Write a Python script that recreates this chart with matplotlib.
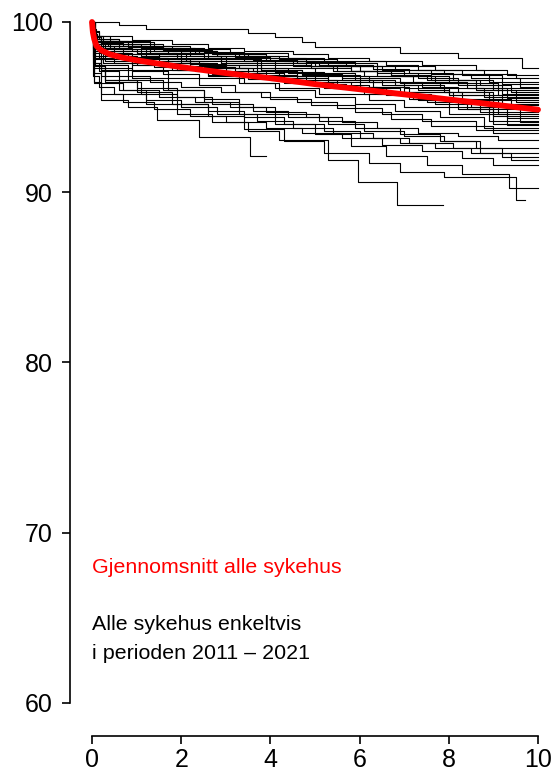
"""Kaplan-Meier style curves per hospital with the overall average in red."""
import matplotlib
matplotlib.use("Agg")
import matplotlib.pyplot as plt

plt.rcParams["font.family"] = ["Liberation Sans", "DejaVu Sans"]

# each hospital: (years, survival %) step points
h01 = ([0, 0.6, 1.2, 3.5, 4.1, 4.7, 5.0, 6.9, 8.2, 9.65, 10.0],
       [100, 99.8, 99.6, 99.35, 99.1, 98.85, 98.55, 98.2, 97.9, 97.3, 97.3])
h02 = ([0, 0.03, 0.15, 0.9, 1.8, 2.6, 3.4, 4.5, 5.3, 6.2, 7.4, 8.6, 9.3, 10],
       [100, 99.5, 99.2, 98.95, 98.7, 98.45, 98.3, 98.1, 97.9, 97.7, 97.45, 97.2, 96.9, 96.9])
h03 = ([0, 0.05, 0.2, 0.7, 1.5, 2.4, 3.3, 4.2, 5.5, 6.4, 7.7, 8.8, 9.5, 10],
       [100, 99.0, 98.75, 98.6, 98.4, 98.2, 98.0, 97.85, 97.6, 97.4, 97.2, 96.95, 96.7, 96.7])
h04 = ([0, 0.04, 0.12, 0.5, 1.1, 2.0, 2.8, 3.9, 4.8, 5.9, 6.8, 7.9, 8.9, 10],
       [100, 99.3, 98.9, 98.7, 98.5, 98.3, 98.1, 97.9, 97.65, 97.4, 97.2, 96.95, 96.5, 96.5])
h05 = ([0, 0.02, 0.1, 0.4, 1.3, 2.2, 3.1, 4.4, 5.2, 6.6, 7.3, 8.3, 9.2, 10],
       [100, 99.6, 99.2, 98.9, 98.6, 98.4, 98.15, 97.9, 97.7, 97.45, 97.2, 96.9, 96.35, 96.35])
h06 = ([0, 0.05, 0.3, 0.9, 1.7, 2.5, 3.6, 4.6, 5.7, 6.5, 7.6, 8.5, 9.6, 10],
       [100, 98.8, 98.5, 98.3, 98.1, 97.9, 97.75, 97.6, 97.4, 97.2, 96.95, 96.7, 96.2, 96.2])
h07 = ([0, 0.03, 0.2, 0.8, 1.6, 2.7, 3.5, 4.3, 5.1, 6.3, 7.1, 8.1, 9.0, 10],
       [100, 99.1, 98.8, 98.55, 98.35, 98.1, 97.9, 97.7, 97.5, 97.25, 97.0, 96.6, 96.0, 96.0])
h08 = ([0, 0.06, 0.25, 1.0, 1.9, 2.9, 3.7, 4.9, 5.8, 6.7, 7.5, 8.7, 9.4, 10],
       [100, 98.6, 98.3, 98.1, 97.85, 97.7, 97.5, 97.3, 97.1, 96.85, 96.6, 96.3, 95.87, 95.87])
h09 = ([0, 0.04, 0.15, 0.6, 1.4, 2.3, 3.2, 4.0, 5.0, 6.0, 7.0, 8.0, 9.1, 10],
       [100, 99.4, 99.0, 98.8, 98.5, 98.2, 97.95, 97.7, 97.4, 97.1, 96.8, 96.4, 95.71, 95.71])
h10 = ([0, 0.02, 0.1, 0.5, 1.2, 2.1, 3.0, 3.8, 4.7, 5.6, 6.9, 7.8, 8.8, 10],
       [100, 99.0, 98.4, 98.1, 97.9, 97.7, 97.45, 97.2, 96.95, 96.7, 96.4, 96.1, 95.6, 95.6])
h11 = ([0, 0.05, 0.35, 1.1, 2.0, 2.6, 3.4, 4.5, 5.4, 6.1, 7.2, 8.4, 9.3, 10],
       [100, 98.9, 98.6, 98.4, 98.15, 97.9, 97.7, 97.4, 97.1, 96.85, 96.5, 96.1, 95.52, 95.52])
h12 = ([0, 0.03, 0.2, 0.7, 1.5, 2.4, 3.3, 4.1, 5.2, 6.2, 7.4, 8.2, 9.0, 10],
       [100, 98.5, 98.2, 97.95, 97.7, 97.5, 97.3, 97.05, 96.8, 96.5, 96.2, 95.9, 95.4, 95.4])
h13 = ([0, 0.06, 0.2, 0.9, 1.8, 2.8, 3.9, 4.8, 5.5, 6.4, 7.7, 8.6, 9.5, 10],
       [100, 99.2, 98.9, 98.6, 98.3, 98.0, 97.7, 97.4, 97.1, 96.8, 96.4, 96.0, 95.32, 95.32])
h14 = ([0, 0.04, 0.3, 1.0, 2.2, 3.0, 3.6, 4.6, 5.3, 6.5, 7.3, 8.0, 9.2, 10],
       [100, 98.3, 98.0, 97.8, 97.55, 97.3, 97.1, 96.85, 96.6, 96.3, 96.0, 95.7, 95.2, 95.2])
h15 = ([0, 0.02, 0.12, 0.6, 1.3, 2.0, 2.9, 3.7, 4.4, 5.9, 6.8, 7.9, 8.9, 10],
       [100, 99.3, 98.7, 98.4, 98.1, 97.8, 97.5, 97.3, 97.0, 96.6, 96.3, 95.9, 95.13, 95.13])
h16 = ([0, 0.05, 0.25, 0.8, 1.7, 2.5, 3.2, 4.2, 5.0, 6.0, 7.0, 8.3, 9.4, 10],
       [100, 98.7, 98.2, 97.9, 97.6, 97.35, 97.1, 96.8, 96.5, 96.2, 95.9, 95.5, 94.93, 94.93])
h17 = ([0, 0.03, 0.15, 0.5, 1.4, 2.3, 3.1, 4.0, 4.9, 5.7, 6.6, 7.6, 8.7, 10],
       [100, 98.4, 97.9, 97.6, 97.35, 97.1, 96.85, 96.6, 96.35, 96.1, 95.8, 95.4, 94.73, 94.73])
h18 = ([0, 0.04, 0.2, 1.2, 2.1, 2.9, 3.8, 4.7, 5.6, 6.3, 7.1, 8.1, 9.1, 10],
       [100, 99.0, 98.6, 98.2, 97.9, 97.6, 97.2, 96.9, 96.6, 96.2, 95.9, 95.4, 94.6, 94.6])
h19 = ([0, 0.06, 0.3, 0.9, 1.6, 2.6, 3.5, 4.3, 5.2, 6.1, 7.2, 8.5, 9.3, 10],
       [100, 98.0, 97.7, 97.45, 97.2, 96.9, 96.65, 96.4, 96.1, 95.8, 95.5, 95.0, 94.34, 94.34])
h20 = ([0, 0.02, 0.1, 0.7, 1.5, 2.2, 3.0, 3.9, 4.8, 5.8, 6.9, 7.7, 8.9, 10],
       [100, 99.1, 98.5, 98.1, 97.7, 97.4, 97.1, 96.8, 96.5, 96.1, 95.7, 95.2, 94.2, 94.2])
h21 = ([0, 0.05, 0.2, 1.0, 1.9, 2.7, 3.6, 4.5, 5.4, 6.6, 7.5, 8.4, 9.6, 10],
       [100, 98.2, 97.8, 97.5, 97.2, 96.95, 96.7, 96.4, 96.1, 95.7, 95.3, 94.9, 94.15, 94.15])
h22 = ([0, 0.03, 0.4, 1.1, 2.0, 2.8, 3.7, 4.6, 5.5, 6.4, 7.3, 8.2, 9.0, 10],
       [100, 98.8, 98.4, 98.0, 97.6, 97.3, 96.9, 96.6, 96.2, 95.8, 95.4, 94.9, 94.0, 94.0])
h23 = ([0, 0.04, 0.2, 0.8, 1.6, 2.4, 3.4, 4.1, 5.1, 6.2, 7.0, 8.0, 9.3, 10],
       [100, 97.9, 97.5, 97.2, 96.95, 96.7, 96.4, 96.1, 95.8, 95.4, 95.0, 94.6, 93.95, 93.95])
h24 = ([0, 0.05, 0.3, 0.9, 1.8, 2.6, 3.3, 4.2, 5.0, 5.9, 6.8, 7.8, 8.8, 10],
       [100, 98.5, 98.0, 97.6, 97.2, 96.8, 96.4, 96.0, 95.6, 95.2, 94.8, 94.4, 93.8, 93.8])
h25 = ([0, 0.03, 0.15, 0.6, 1.3, 2.0, 2.9, 3.8, 4.6, 5.5, 6.5, 7.4, 8.6, 10],
       [100, 97.6, 97.1, 96.8, 96.5, 96.2, 95.9, 95.6, 95.3, 94.95, 94.6, 94.2, 93.66, 93.66])
h26 = ([0, 0.04, 0.25, 0.9, 1.7, 2.4, 3.2, 4.0, 4.9, 5.9, 6.7, 7.6, 9.0, 10],
       [100, 98.3, 97.6, 97.1, 96.7, 96.3, 95.9, 95.5, 95.1, 94.7, 94.3, 93.9, 93.46, 93.46])
h27 = ([0, 0.05, 0.2, 0.7, 1.5, 2.3, 3.1, 3.9, 4.8, 5.6, 6.4, 7.3, 8.2, 9.1, 10],
       [100, 97.0, 96.4, 96.0, 95.6, 95.3, 95.0, 94.7, 94.4, 94.1, 93.8, 93.5, 93.3, 93.07, 93.07])
h28 = ([0, 0.04, 0.3, 1.0, 1.9, 2.7, 3.6, 4.4, 5.3, 6.1, 7.0, 7.9, 8.6, 10],
       [100, 97.3, 96.6, 96.1, 95.6, 95.2, 94.8, 94.4, 94.0, 93.6, 93.3, 93.0, 92.58, 92.58])
h29 = ([0, 0.05, 0.2, 0.8, 1.6, 2.5, 3.3, 4.1, 5.1, 5.9, 6.9, 7.8, 8.7, 10],
       [100, 97.8, 97.2, 96.6, 96.0, 95.5, 95.0, 94.6, 94.2, 93.8, 93.4, 93.0, 92.29, 92.29])
h30 = ([0, 0.03, 0.15, 0.5, 1.2, 2.0, 2.8, 3.7, 4.5, 5.4, 6.3, 7.1, 8.1, 9.2, 10],
       [100, 96.8, 96.2, 95.8, 95.4, 95.0, 94.6, 94.2, 93.8, 93.5, 93.2, 92.9, 92.6, 92.09, 92.09])
h31 = ([0, 0.06, 0.3, 1.1, 1.9, 2.6, 3.4, 4.3, 5.2, 6.0, 6.9, 7.7, 8.5, 9.4, 10],
       [100, 97.4, 96.5, 95.8, 95.2, 94.8, 94.4, 94.0, 93.6, 93.2, 92.9, 92.6, 92.3, 91.9, 91.9])
h32 = ([0, 0.04, 0.2, 0.7, 1.4, 2.2, 3.0, 3.9, 4.7, 5.6, 6.5, 7.4, 8.3, 9.0, 10],
       [100, 96.4, 95.8, 95.3, 94.9, 94.5, 94.1, 93.8, 93.5, 93.2, 92.8, 92.4, 92.0, 91.6, 91.6])
h33 = ([0, 0.05, 0.2, 0.8, 1.45, 2.4, 3.55, 3.9],
       [100, 96.5, 95.4, 95.0, 94.25, 93.27, 92.1, 92.1])
h34 = ([0, 0.04, 0.2, 0.6, 1.2, 1.9, 2.7, 3.5, 4.2, 5.3, 5.97, 6.83, 7.87],
       [100, 97.6, 96.8, 96.0, 95.2, 94.6, 94.1, 93.6, 93.07, 91.9, 90.6, 89.25, 89.25])
h35 = ([0, 0.05, 0.3, 1.0, 1.8, 2.6, 3.4, 4.3, 5.2, 6.2, 6.9, 7.9, 9.5, 9.7],
       [100, 97.5, 96.6, 95.9, 95.2, 94.5, 93.7, 93.0, 92.3, 91.7, 91.2, 90.92, 89.55, 89.55])
h36 = ([0, 0.03, 0.2, 0.9, 1.7, 2.5, 3.3, 4.1, 5.0, 5.8, 6.6, 7.5, 8.3, 9.34, 10],
       [100, 98.0, 97.3, 96.7, 96.0, 95.3, 94.6, 94.0, 93.4, 92.7, 92.1, 91.6, 91.1, 90.23, 90.23])
h37 = ([0, 0.02, 0.1, 0.6, 1.4, 2.2, 3.0, 4.1, 5.0, 6.0, 7.0, 8.0, 9.0, 10],
       [100, 99.5, 99.0, 98.6, 98.3, 98.0, 97.7, 97.3, 96.9, 96.5, 96.1, 95.7, 95.0, 95.0])
h38 = ([0, 0.04, 0.2, 0.9, 1.7, 2.6, 3.5, 4.3, 5.3, 6.2, 7.1, 8.0, 9.0, 10],
       [100, 98.6, 98.2, 97.9, 97.6, 97.3, 97.0, 96.7, 96.3, 95.9, 95.5, 95.0, 94.45, 94.45])
h39 = ([0, 0.03, 0.25, 0.8, 1.6, 2.5, 3.4, 4.4, 5.3, 6.4, 7.3, 8.2, 9.2, 10],
       [100, 99.2, 98.9, 98.7, 98.5, 98.25, 98.0, 97.7, 97.4, 97.0, 96.7, 96.3, 95.8, 95.8])
h40 = ([0, 0.02, 0.1, 0.5, 1.0, 1.9, 2.9, 3.8, 4.9, 5.8, 6.7, 7.6, 8.6, 10],
       [100, 98.9, 98.6, 98.4, 98.2, 98.0, 97.8, 97.6, 97.4, 97.15, 96.9, 96.6, 96.1, 96.1])

hospitals = [h01, h02, h03, h04, h05, h06, h07, h08, h09, h10,
             h11, h12, h13, h14, h15, h16, h17, h18, h19, h20,
             h21, h22, h23, h24, h25, h26, h27, h28, h29, h30,
             h31, h32, h33, h34, h35, h36, h37, h38, h39, h40]

# average over all hospitals
avg_years = [0, 0.02, 0.05, 0.1, 0.2, 0.4, 0.7, 1, 1.5, 2, 3, 4, 5, 6, 7, 8, 9, 10]
avg_surv = [100, 99.4, 99.0, 98.6, 98.35, 98.1, 97.9, 97.75, 97.55, 97.35,
            97.0, 96.7, 96.35, 96.05, 95.75, 95.45, 95.15, 94.85]

x_ticks = [0, 2, 4, 6, 8, 10]
y_ticks = [60, 70, 80, 90, 100]
label_avg = "Gjennomsnitt alle sykehus"
label_all = ["Alle sykehus enkeltvis", "i perioden 2011 \u2013 2021"]

fig = plt.figure(figsize=(5.52, 7.74), dpi=100)
ax = fig.add_axes([92 / 552, 71 / 774, 446 / 552, 681 / 774])

for years, surv in hospitals:
    ax.step(years, surv, where="post", color="black", lw=0.8, clip_on=False)

ax.plot(avg_years, avg_surv, color="#ff0000", lw=4.2, solid_capstyle="round",
        clip_on=False, zorder=5)

ax.text(0, 67.64, label_avg, color="#ff0000", fontsize=15.4, va="baseline")
ax.text(0, 64.29, label_all[0], color="black", fontsize=15.4, va="baseline")
ax.text(0, 62.58, label_all[1], color="black", fontsize=15.4, va="baseline")

ax.set_xlim(0, 10)
ax.set_ylim(60, 100)
ax.set_xticks(x_ticks)
ax.set_yticks(y_ticks)
ax.spines[["top", "right"]].set_visible(False)
ax.spines["left"].set_position(("outward", 15.5))
ax.spines["bottom"].set_position(("outward", 23.8))
ax.spines["left"].set_bounds(60, 100)
ax.spines["bottom"].set_bounds(0, 10)
for side in ("left", "bottom"):
    ax.spines[side].set_linewidth(1.2)
ax.tick_params(axis="both", labelsize=18, width=1.2, length=5.5)
ax.tick_params(axis="y", pad=7)
ax.tick_params(axis="x", pad=3)

fig.savefig("out.png", dpi=100)
